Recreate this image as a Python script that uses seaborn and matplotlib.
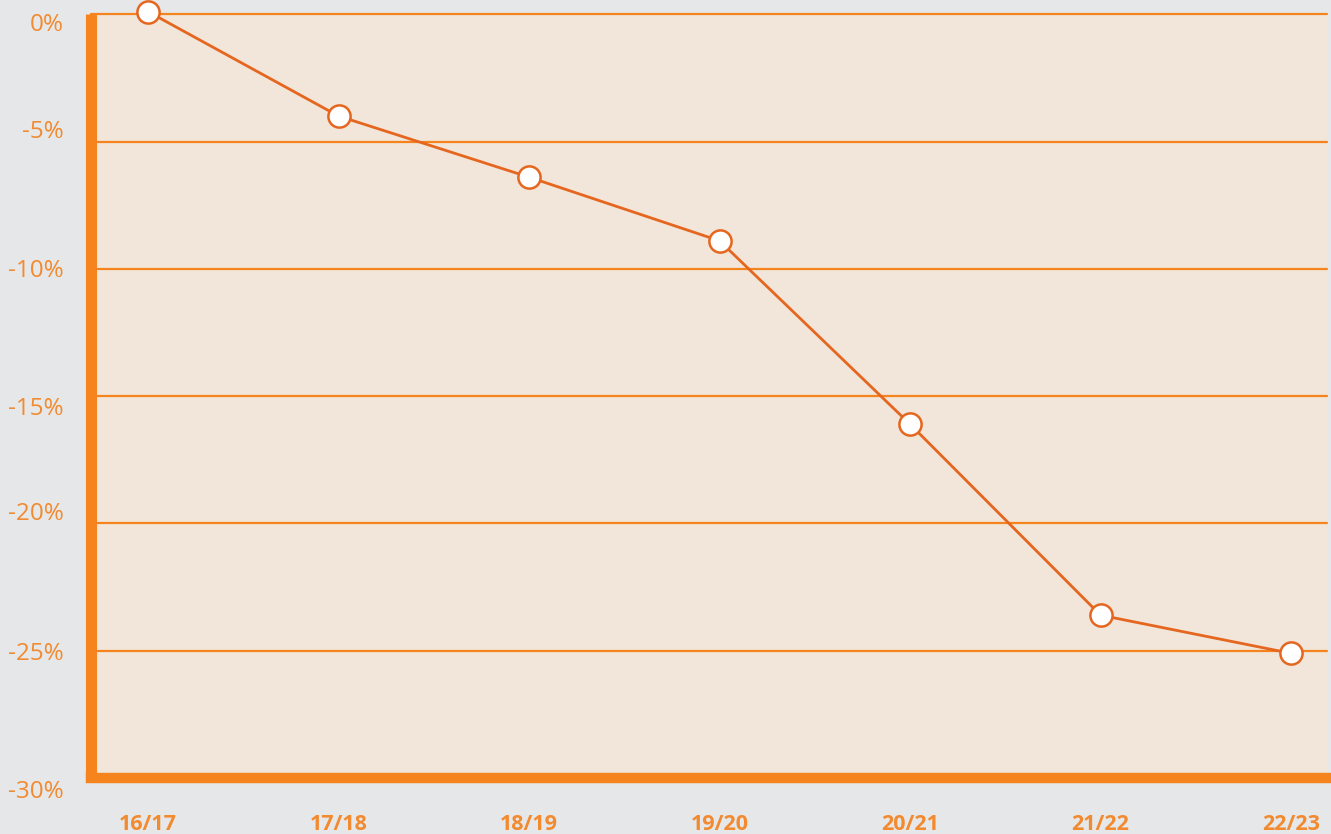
import pandas as pd
import matplotlib.pyplot as plt
import matplotlib.transforms as mtransforms
import seaborn as sns

# Data
years = ["16/17", "17/18", "18/19", "19/20", "20/21", "21/22", "22/23"]
change = [0.1, -4.0, -6.4, -8.9, -16.1, -23.6, -25.1]
yticks = [0, -5, -10, -15, -20, -25, -30]
ytick_labels = ["0%", "-5%", "-10%", "-15%", "-20%", "-25%", "-30%"]

df = pd.DataFrame({"pos": range(len(years)), "change": change})

sns.set_theme(style="white")
plt.rcParams["font.family"] = ["Open Sans", "DejaVu Sans"]

orange = "#f5841f"
line_col = "#e5661f"
label_col = "#f28a30"

fig = plt.figure(figsize=(13.31, 8.34), dpi=100, facecolor="#e6e7e8")
ax = fig.add_axes([0.0687, 0.067, 0.9283, 0.916])
ax.set_facecolor("#f2e6da")

sns.lineplot(data=df, x="pos", y="change", ax=ax, color=line_col, linewidth=2,
             marker="o", markersize=16, markerfacecolor="white",
             markeredgecolor=line_col, markeredgewidth=1.8, clip_on=False, zorder=5)

ax.set_ylim(-30, 0)
ax.set_xlim(-0.297, 6.189)
ax.set_yticks(yticks)
ax.set_yticklabels(ytick_labels)
ax.set_xticks(range(len(years)))
ax.set_xticklabels(years)
ax.set_xlabel("")
ax.set_ylabel("")

for v in yticks[:-1]:
    ax.axhline(v, color=orange, linewidth=1.6, zorder=1, clip_on=False)

for side in ["top", "right"]:
    ax.spines[side].set_visible(False)
ax.spines["left"].set_color(orange)
ax.spines["left"].set_linewidth(8)
ax.spines["left"].set_capstyle("butt")
ax.spines["bottom"].set_color(orange)
ax.spines["bottom"].set_linewidth(7.5)
ax.spines["bottom"].set_capstyle("projecting")

ax.tick_params(axis="y", length=0, pad=20, labelsize=17.5, labelcolor=label_col)
ax.tick_params(axis="x", length=0, pad=26, labelsize=15.5, labelcolor=label_col)
for t in ax.get_xticklabels():
    t.set_fontweight("bold")

# the y labels in the original sit slightly off their gridlines
label_shift = [-8, 13, 1, -10, 12, 0, -11]
for t, dy in zip(ax.get_yticklabels(), label_shift):
    t.set_transform(t.get_transform() +
                    mtransforms.ScaledTranslation(0, dy / 100, fig.dpi_scale_trans))

fig.savefig("out.png", dpi=100, facecolor=fig.get_facecolor())
